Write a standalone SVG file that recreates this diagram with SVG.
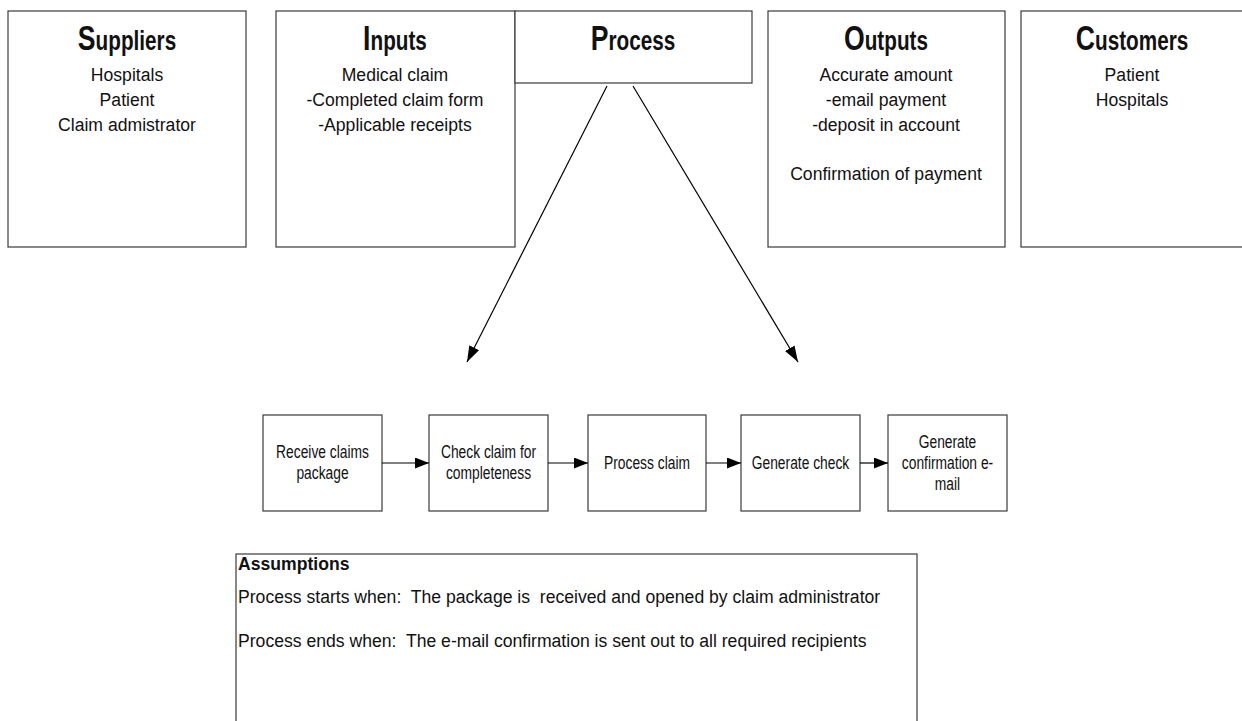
<svg xmlns="http://www.w3.org/2000/svg" width="1242" height="721" viewBox="0 0 1242 721">
<style>
.box{fill:#fff;stroke:#3a3a3a;stroke-width:1.2}
.t{font-family:'Liberation Sans',Arial,sans-serif;fill:#111}
.sub{font-size:17.6px;text-anchor:middle}
.ttl{font-size:28px;font-weight:bold;text-anchor:middle}
.big{font-size:36px}
.fl{font-size:17.5px;text-anchor:middle}
.as{font-size:17.6px;white-space:pre}
.conn{stroke:#000;stroke-width:1.2;fill:none}
</style>
<defs>
<marker id="ah" markerWidth="14" markerHeight="11" refX="14" refY="5.5" orient="auto" markerUnits="userSpaceOnUse">
<path d="M0,0 L14,5.5 L0,11 Z" fill="#000"/>
</marker>
<marker id="ahd" markerWidth="16" markerHeight="11" refX="16" refY="5.5" orient="auto" markerUnits="userSpaceOnUse">
<path d="M0,0 L16,5.5 L0,11 Z" fill="#000"/>
</marker>
</defs>
<rect width="1242" height="721" fill="#fff"/>
<g id="suppliers">
<rect class="box" x="8" y="11" width="238" height="236"/>
<g transform="translate(127,0) scale(0.74,1)"><text class="t ttl" x="0" y="50"><tspan class="big">S</tspan>uppliers</text></g>
<text class="t sub" x="127" y="81">Hospitals</text>
<text class="t sub" x="127" y="106">Patient</text>
<text class="t sub" x="127" y="131">Claim admistrator</text>
</g>
<g id="inputs">
<rect class="box" x="276" y="11" width="239" height="236"/>
<g transform="translate(395,0) scale(0.74,1)"><text class="t ttl" x="0" y="50"><tspan class="big">I</tspan>nputs</text></g>
<text class="t sub" x="395" y="81">Medical claim</text>
<text class="t sub" x="395" y="106">-Completed claim form</text>
<text class="t sub" x="395" y="131">-Applicable receipts</text>
</g>
<g id="process">
<rect class="box" x="515" y="11" width="237" height="72"/>
<g transform="translate(633,0) scale(0.74,1)"><text class="t ttl" x="0" y="50"><tspan class="big">P</tspan>rocess</text></g>
</g>
<g id="outputs">
<rect class="box" x="768" y="11" width="237" height="236"/>
<g transform="translate(886,0) scale(0.74,1)"><text class="t ttl" x="0" y="50"><tspan class="big">O</tspan>utputs</text></g>
<text class="t sub" x="886" y="81">Accurate amount</text>
<text class="t sub" x="886" y="106">-email payment</text>
<text class="t sub" x="886" y="131">-deposit in account</text>
<text class="t sub" x="886" y="180">Confirmation of payment</text>
</g>
<g id="customers">
<rect class="box" x="1021" y="11" width="240" height="236"/>
<g transform="translate(1132,0) scale(0.74,1)"><text class="t ttl" x="0" y="50"><tspan class="big">C</tspan>ustomers</text></g>
<text class="t sub" x="1132" y="81">Patient</text>
<text class="t sub" x="1132" y="106">Hospitals</text>
</g>
<g id="step1">
<rect class="box" x="263" y="415" width="119" height="96"/>
<g transform="translate(322.5,0) scale(0.79,1)">
<text class="t fl" x="0" y="458">Receive claims</text>
<text class="t fl" x="0" y="479">package</text>
</g>
</g>
<g id="step2">
<rect class="box" x="429" y="415" width="119" height="96"/>
<g transform="translate(488.5,0) scale(0.79,1)">
<text class="t fl" x="0" y="458">Check claim for</text>
<text class="t fl" x="0" y="479">completeness</text>
</g>
</g>
<g id="step3">
<rect class="box" x="588" y="415" width="118" height="96"/>
<g transform="translate(647,0) scale(0.79,1)">
<text class="t fl" x="0" y="469">Process claim</text>
</g>
</g>
<g id="step4">
<rect class="box" x="741" y="415" width="119" height="96"/>
<g transform="translate(800.5,0) scale(0.79,1)">
<text class="t fl" x="0" y="469">Generate check</text>
</g>
</g>
<g id="step5">
<rect class="box" x="888" y="415" width="119" height="96"/>
<g transform="translate(947.5,0) scale(0.79,1)">
<text class="t fl" x="0" y="448">Generate</text>
<text class="t fl" x="0" y="469">confirmation e-</text>
<text class="t fl" x="0" y="490">mail</text>
</g>
</g>
<g id="assumptions">
<rect class="box" x="236" y="554" width="681" height="180"/>
<text class="t as" x="238" y="570" font-weight="bold">Assumptions</text>
<text class="t as" x="238" y="603">Process starts when:  The package is  received and opened by claim administrator</text>
<text class="t as" x="238" y="647">Process ends when:  The e-mail confirmation is sent out to all required recipients</text>
</g>
<g id="connectors">
<line class="conn" x1="607" y1="86" x2="467" y2="362" marker-end="url(#ahd)"/>
<line class="conn" x1="633" y1="86" x2="798" y2="362" marker-end="url(#ahd)"/>
<line class="conn" x1="382" y1="463" x2="429" y2="463" marker-end="url(#ah)"/>
<line class="conn" x1="548" y1="463" x2="588" y2="463" marker-end="url(#ah)"/>
<line class="conn" x1="706" y1="463" x2="741" y2="463" marker-end="url(#ah)"/>
<line class="conn" x1="860" y1="463" x2="888" y2="463" marker-end="url(#ah)"/>
</g>
</svg>
